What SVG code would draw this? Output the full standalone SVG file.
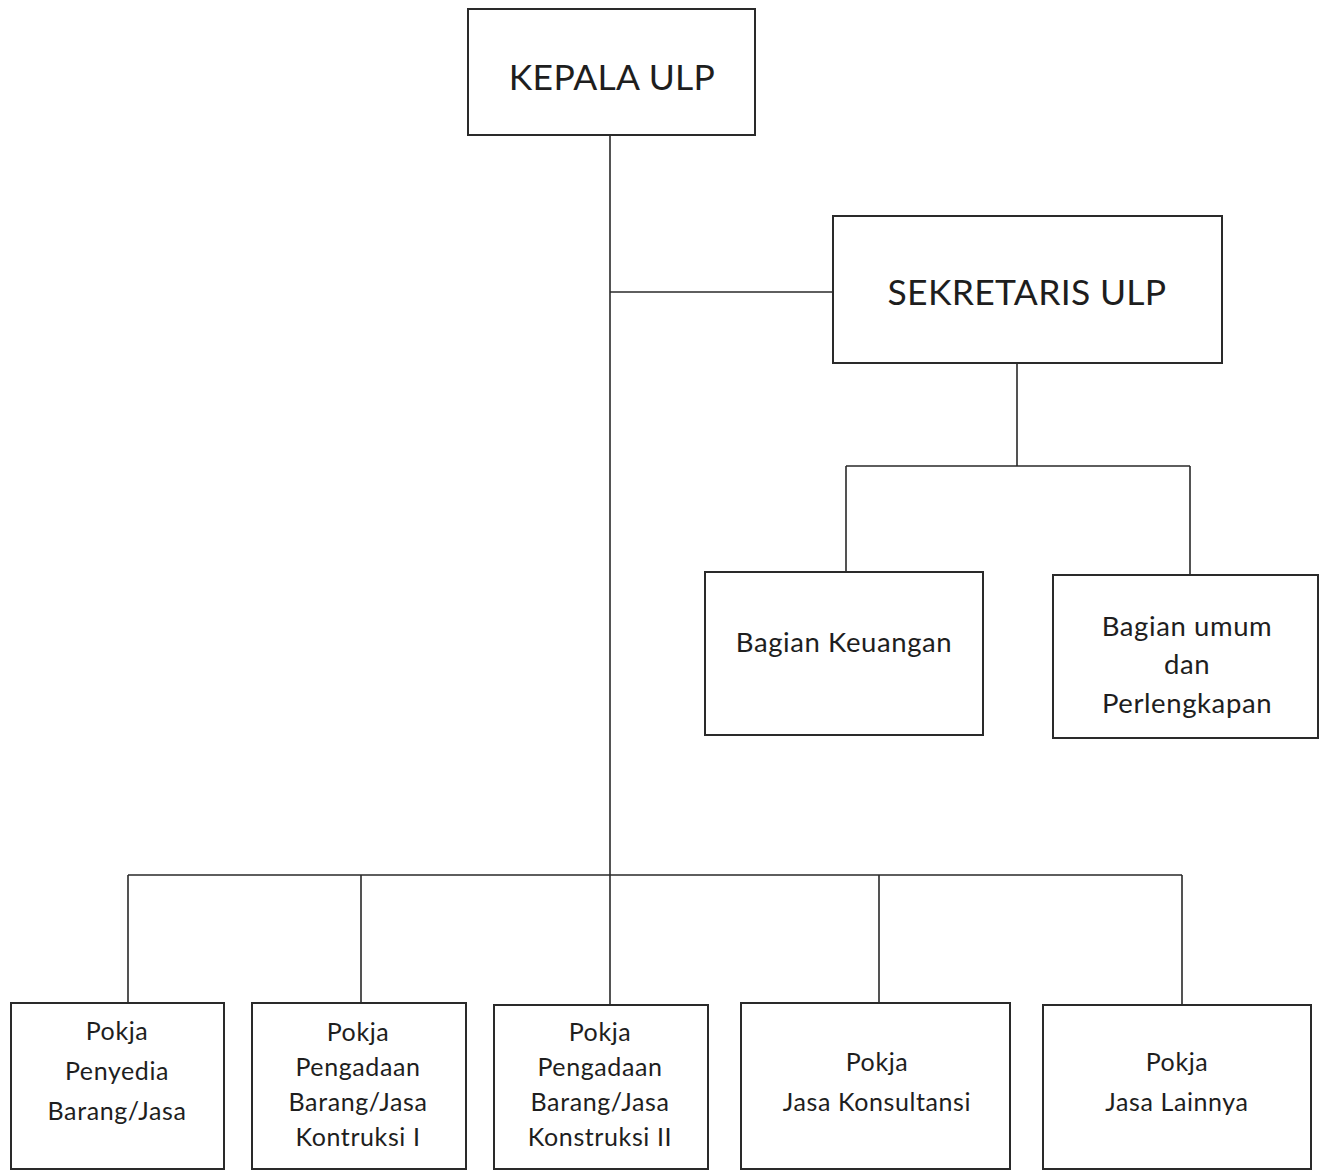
<svg xmlns="http://www.w3.org/2000/svg" width="1326" height="1172" viewBox="0 0 1326 1172">
<style>
.box{fill:#fff;stroke:#2a2a2a;stroke-width:2}
.ln{fill:none;stroke:#2a2a2a;stroke-width:1.6}
text{font-family:Lato,"Open Sans","Liberation Sans",sans-serif;fill:#1e1e1e;text-anchor:middle}
.big{font-size:35.5px;letter-spacing:0.3px}
.mid{font-size:27.5px;letter-spacing:0.6px}
.sm{font-size:25px;letter-spacing:0.6px}
</style>
<rect width="1326" height="1172" fill="#fff"/>
<g id="connectors">
<path class="ln" d="M610 135 V1005"/>
<path class="ln" d="M610 292 H833"/>
<path class="ln" d="M1017 363 V466 M846 466 H1190 M846 466 V572 M1190 466 V575"/>
<path class="ln" d="M128 875 H1182 M128 875 V1003 M361 875 V1003 M879 875 V1003 M1182 875 V1005"/>
</g>
<g id="kepala">
<rect class="box" x="468" y="9" width="287" height="126"/>
<text class="big" x="612" y="90">KEPALA ULP</text>
</g>
<g id="sekretaris">
<rect class="box" x="833" y="216" width="389" height="147"/>
<text class="big" x="1027" y="305">SEKRETARIS ULP</text>
</g>
<g id="keuangan">
<rect class="box" x="705" y="572" width="278" height="163"/>
<text class="mid" x="844" y="652">Bagian Keuangan</text>
</g>
<g id="umum">
<rect class="box" x="1053" y="575" width="265" height="163"/>
<text class="mid" x="1187" y="636">Bagian umum</text>
<text class="mid" x="1187" y="674">dan</text>
<text class="mid" x="1187" y="713">Perlengkapan</text>
</g>
<g id="pokja1">
<rect class="box" x="11" y="1003" width="213" height="166"/>
<text class="sm" x="117" y="1040">Pokja</text>
<text class="sm" x="117" y="1080">Penyedia</text>
<text class="sm" x="117" y="1120">Barang/Jasa</text>
</g>
<g id="pokja2">
<rect class="box" x="252" y="1003" width="214" height="166"/>
<text class="sm" x="358" y="1041">Pokja</text>
<text class="sm" x="358" y="1076">Pengadaan</text>
<text class="sm" x="358" y="1111">Barang/Jasa</text>
<text class="sm" x="358" y="1146">Kontruksi I</text>
</g>
<g id="pokja3">
<rect class="box" x="494" y="1005" width="214" height="164"/>
<text class="sm" x="600" y="1041">Pokja</text>
<text class="sm" x="600" y="1076">Pengadaan</text>
<text class="sm" x="600" y="1111">Barang/Jasa</text>
<text class="sm" x="600" y="1146">Konstruksi II</text>
</g>
<g id="pokja4">
<rect class="box" x="741" y="1003" width="269" height="166"/>
<text class="sm" x="877" y="1071">Pokja</text>
<text class="sm" x="877" y="1111">Jasa Konsultansi</text>
</g>
<g id="pokja5">
<rect class="box" x="1043" y="1005" width="268" height="164"/>
<text class="sm" x="1177" y="1071">Pokja</text>
<text class="sm" x="1177" y="1111">Jasa Lainnya</text>
</g>
</svg>
